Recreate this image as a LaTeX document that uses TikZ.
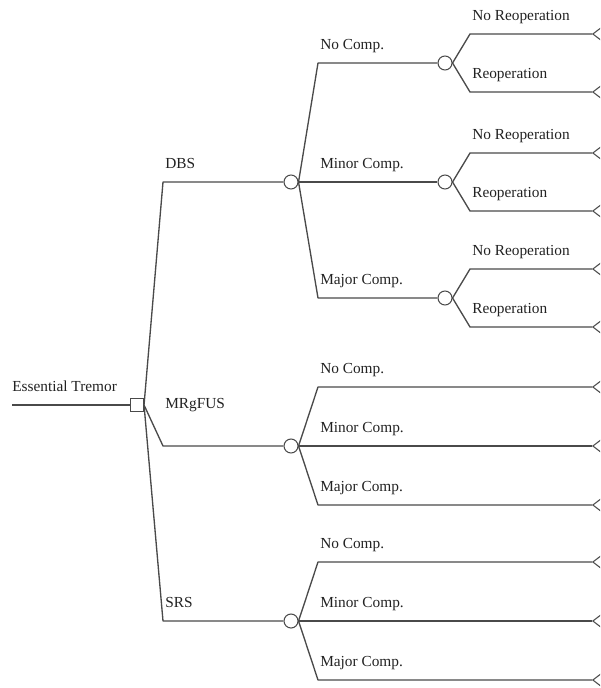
\documentclass[tikz,border=0pt]{standalone}
\usepackage{fontspec}
\setmainfont{Liberation Serif}
\usetikzlibrary{shapes.geometric}

\definecolor{treeline}{HTML}{4A4A4A}
\definecolor{treetext}{HTML}{222222}

\tikzset{
    branch/.style={draw=treeline, line width=1pt, line join=round},
    decision/.style={rectangle, draw=treeline, line width=0.8pt, fill=white,
        minimum size=9.75pt, inner sep=0pt},
    chance/.style={circle, draw=treeline, line width=0.8pt, fill=white,
        minimum size=10.5pt, inner sep=0pt},
    terminal/.style={isosceles triangle, isosceles triangle apex angle=75,
        shape border rotate=180, draw=treeline, line width=0.8pt,
        minimum height=12pt, inner sep=0pt, anchor=apex},
    lbl/.style={anchor=base west, inner sep=0pt, xshift=1.5pt, yshift=10pt,
        text=treetext, font=\fontsize{11.5}{13}\selectfont},
}

\begin{document}
\begin{tikzpicture}[x=0.75pt, y=-0.75pt]

    \pgfmathsetmacro{\xk}{163}   % Knick nach der Entscheidung
    \pgfmathsetmacro{\xc}{291}   % erste Zufallsknoten
    \pgfmathsetmacro{\xkk}{318}  % Knick Komplikationen
    \pgfmathsetmacro{\xcc}{445}  % zweite Zufallsknoten
    \pgfmathsetmacro{\xkr}{470}  % Knick Reoperation
    \pgfmathsetmacro{\xt}{592}   % Endknoten

    \clip (0,0) rectangle (600,688);

    % Entscheidungsknoten
    \coordinate (start) at (12,405);
    \node[decision] (root) at (137,405) {};
    \draw[branch] (start) -- (root);
    \node[lbl, xshift=-1.5pt] (lroot) at (start) {Essential Tremor};

    % DBS
    \coordinate (kdbs) at (\xk,182);
    \node[chance] (cdbs) at (\xc,182) {};
    \draw[branch] (root.east) -- (kdbs) -- (cdbs);
    \node[lbl] (ldbs) at (kdbs) {DBS};

    % MRgFUS
    \coordinate (kmrg) at (\xk,446);
    \node[chance] (cmrg) at (\xc,446) {};
    \draw[branch] (root.east) -- (kmrg) -- (cmrg);
    \node[lbl] (lmrg) at (\xk,422) {MRgFUS};

    % SRS
    \coordinate (ksrs) at (\xk,621);
    \node[chance] (csrs) at (\xc,621) {};
    \draw[branch] (root.east) -- (ksrs) -- (csrs);
    \node[lbl] (lsrs) at (ksrs) {SRS};

    % Komplikationen nach DBS
    \foreach \name/\y/\txt in {no/63/No Comp., minor/182/Minor Comp., major/298/Major Comp.} {
        \coordinate (k-\name) at (\xkk,\y);
        \node[chance] (c-\name) at (\xcc,\y) {};
        \draw[branch] (cdbs.east) -- (k-\name) -- (c-\name);
        \node[lbl] (l-\name) at (k-\name) {\txt};

        % Reoperation
        \coordinate (k-\name-nr) at (\xkr,{\y-29});
        \coordinate (k-\name-r) at (\xkr,{\y+29});
        \node[terminal] (t-\name-nr) at (\xt,{\y-29}) {};
        \node[terminal] (t-\name-r) at (\xt,{\y+29}) {};
        \draw[branch] (c-\name.east) -- (k-\name-nr) -- (t-\name-nr.apex);
        \draw[branch] (c-\name.east) -- (k-\name-r) -- (t-\name-r.apex);
        \node[lbl] (l-\name-nr) at (k-\name-nr) {No Reoperation};
        \node[lbl] (l-\name-r) at (k-\name-r) {Reoperation};
    }

    % Komplikationen nach MRgFUS und SRS
    \foreach \grp/\cy in {mrg/446, srs/621} {
        \foreach \name/\dy/\txt in {no/-59/No Comp., minor/0/Minor Comp., major/59/Major Comp.} {
            \coordinate (k-\grp-\name) at (\xkk,{\cy+\dy});
            \node[terminal] (t-\grp-\name) at (\xt,{\cy+\dy}) {};
            \draw[branch] (c\grp.east) -- (k-\grp-\name) -- (t-\grp-\name.apex);
            \node[lbl] (l-\grp-\name) at (k-\grp-\name) {\txt};
        }
    }

\end{tikzpicture}
\end{document}
